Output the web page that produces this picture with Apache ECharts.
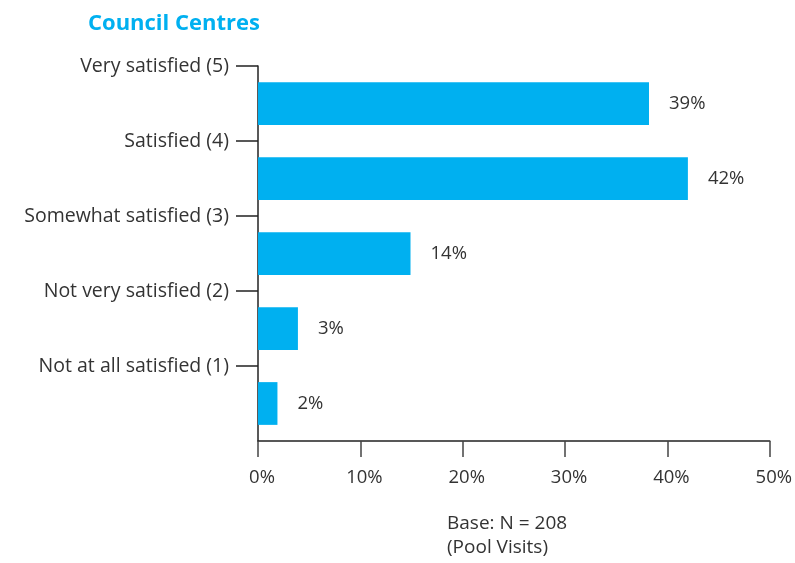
<!DOCTYPE html>
<html>
<head>
<meta charset="utf-8">
<script src="https://cdn.jsdelivr.net/npm/echarts@6/dist/echarts.min.js"></script>
<style>
  html, body { margin: 0; padding: 0; background: #fff; }
  #chart { width: 795px; height: 563px; }
</style>
</head>
<body>
<div id="chart"></div>
<script>
// ratings, top to bottom
var categories = [
  "Very satisfied (5)",
  "Satisfied (4)",
  "Somewhat satisfied (3)",
  "Not very satisfied (2)",
  "Not at all satisfied (1)"
];
// bar lengths as drawn (%)
var values = [38.2, 42.0, 14.9, 3.9, 1.9];
// printed labels
var valueLabels = ["39%", "42%", "14%", "3%", "2%"];
var xTicks = [0, 10, 20, 30, 40, 50];

var font = "'Open Sans', Lato, sans-serif";
var textColor = "#333";

var chart = echarts.init(document.getElementById("chart"), null, { renderer: "canvas" });

chart.setOption({
  animation: false,
  title: {
    text: "Council Centres",
    left: 83,
    top: 8,
    textStyle: { color: "#00b0f0", fontSize: 22, fontWeight: "bold", fontFamily: font }
  },
  grid: { left: 258, right: 24, top: 66, bottom: 122, containLabel: false },
  xAxis: {
    type: "value",
    min: xTicks[0],
    max: xTicks[xTicks.length - 1],
    interval: 10,
    axisLine: { show: true, lineStyle: { color: "#222", width: 1.5 } },
    axisTick: { show: true, length: 16, lineStyle: { color: "#444", width: 1.5 } },
    splitLine: { show: false },
    axisLabel: {
      formatter: "{value}%",
      color: textColor,
      fontSize: 18.5,
      fontFamily: font,
      margin: 27,
      padding: [0, 0, 0, 8]
    }
  },
  yAxis: [
    {
      type: "category",
      inverse: true,
      data: categories,
      axisLine: { show: true, lineStyle: { color: "#222", width: 1.5 } },
      axisTick: { show: false },
      axisLabel: { show: false }
    },
    {
      type: "category",
      position: "left",
      offset: 0,
      inverse: true,
      boundaryGap: false,
      data: categories.concat([""]),
      axisLine: { show: false },
      axisTick: {
        show: true,
        length: 22,
        interval: function (i, v) { return v !== ""; },
        lineStyle: { color: "#222", width: 1.5 }
      },
      axisLabel: {
        color: textColor,
        fontSize: 19.5,
        fontFamily: font,
        margin: 29,
        interval: 0
      }
    }
  ],
  series: [
    {
      type: "bar",
      yAxisIndex: 0,
      data: values,
      barCategoryGap: "43%",
      itemStyle: { color: "#00b0f0" },
      label: {
        show: true,
        position: "right",
        distance: 20,
        color: textColor,
        fontSize: 18.5,
        fontFamily: font,
        formatter: function (p) { return valueLabels[p.dataIndex]; }
      }
    }
  ],
  graphic: [
    {
      type: "text",
      left: 447,
      top: 512,
      style: {
        text: "Base: N = 208\n(Pool Visits)",
        fill: textColor,
        font: "19px " + font,
        lineHeight: 24
      }
    }
  ]
});
</script>
</body>
</html>
